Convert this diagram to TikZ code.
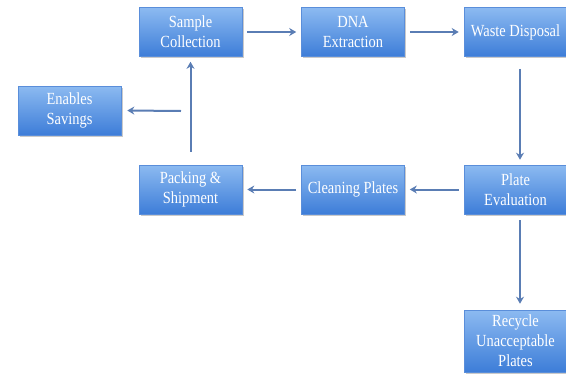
\documentclass[tikz,border=0pt]{standalone}
\usepackage{fontspec}
\setmainfont{Liberation Serif}[FakeStretch=0.85]
\usetikzlibrary{arrows.meta,shadows}
\definecolor{boxtop}{HTML}{8CBAF1}
\definecolor{boxbot}{HTML}{3D7DD8}
\definecolor{boxline}{HTML}{5A8EDA}
\definecolor{arr}{HTML}{5A7DB4}
\tikzset{
  procbox/.style={rectangle, minimum width=103pt, minimum height=49pt, inner sep=0pt,
    top color=boxtop, bottom color=boxbot, draw=boxline, line width=0.6pt,
    drop shadow={shadow xshift=1.5pt, shadow yshift=-1.5pt, fill=black!35, opacity=0.6},
    text=white, align=center, font=\fontsize{17}{20}\selectfont},
  flow/.style={draw=arr, line width=2pt, -{Stealth[length=7pt,width=8pt]}},
}
\begin{document}
\begin{tikzpicture}[x=1pt,y=-1pt]
\useasboundingbox (0,0) rectangle (566,373);
\node[procbox] (sample) at (190.5,32) {Sample\\Collection};
\node[procbox] (dna) at (353,32) {DNA\\Extraction};
\node[procbox] (waste) at (515.5,32) {Waste Disposal};
\node[procbox] (save) at (69.5,110.5) {Enables\\Savings};
\node[procbox] (pack) at (190.5,189.5) {Packing \&\\Shipment};
\node[procbox] (clean) at (353,189.5) {Cleaning Plates};
\node[procbox] (eval) at (515.5,189.5) {Plate\\Evaluation};
\node[procbox, minimum height=62pt] (recy) at (515.5,341) {Recycle\\Unacceptable\\Plates};
\coordinate (br) at (181,111);
\draw[flow] ([xshift=5pt]sample.east) -- ([xshift=-5pt]dna.west);
\draw[flow] ([xshift=5pt]dna.east) -- ([xshift=-5pt]waste.west);
\draw[flow] ([yshift=-12pt]waste.south -| 520,0) -- ([yshift=5pt]eval.north -| 520,0);
\draw[flow] ([xshift=-5pt]eval.west) -- ([xshift=5pt]clean.east);
\draw[flow] ([xshift=-5pt]clean.west) -- ([xshift=5pt]pack.east);
\draw[flow] ([yshift=13pt]pack.north) -- ([yshift=-5pt]sample.south);
\draw[flow] (br) -- ([xshift=6pt]save.east);
\draw[flow] ([yshift=-6pt]eval.south -| 520,0) -- ([yshift=6pt]recy.north -| 520,0);
\end{tikzpicture}
\end{document}
